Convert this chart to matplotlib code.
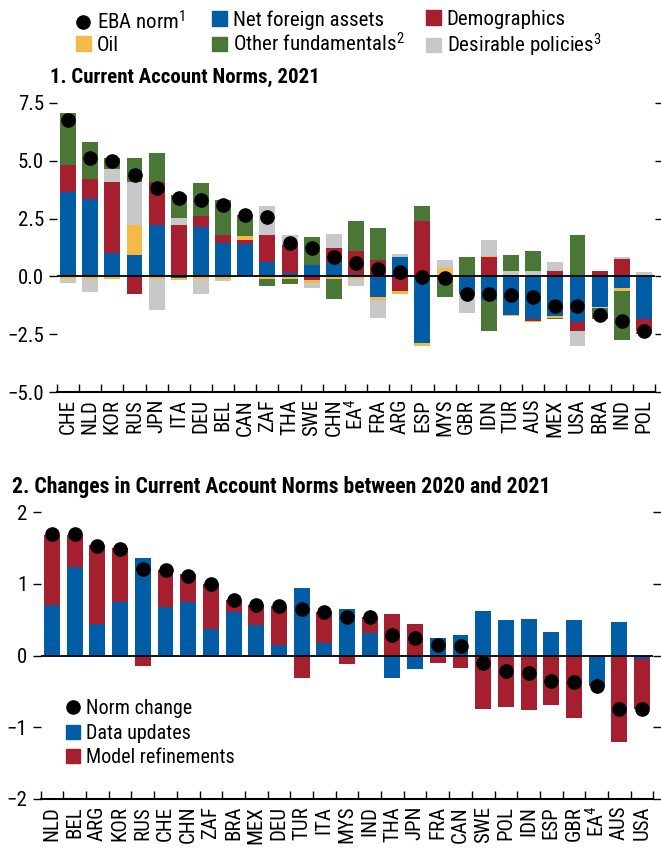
import numpy as np
import matplotlib
matplotlib.use("Agg")
import matplotlib.pyplot as plt
from matplotlib import font_manager as fm
from matplotlib.patches import Patch
from matplotlib.lines import Line2D

# look for a narrow / condensed sans face, else shrink Liberation Sans
def _key(f):
    s = (f.name + ' ' + f.fname).lower()
    for i, k in enumerate(['liberation sans narrow', 'arial narrow', 'roboto condensed',
                           'open sans condensed', 'dejavu sans condensed', 'noto sans']):
        if k in s or k.replace(' ', '') in s:
            return i
    return 9

cands = []
for f in fm.fontManager.ttflist:
    s = (f.name + ' ' + f.fname).lower()
    if ('narrow' in s or 'condensed' in s or str(f.stretch) in ('condensed', 'semi-condensed')) \
            and 'mono' not in s and 'serif' not in s and 'cjk' not in s:
        cands.append(f)
cands.sort(key=_key)

if cands:
    FAMILY = cands[0].name
    plt.rcParams['font.stretch'] = cands[0].stretch if isinstance(cands[0].stretch, str) else 'condensed'
    FS = 15
else:
    FAMILY = 'Liberation Sans'
    FS = 12.8

plt.rcParams['font.family'] = [FAMILY, 'DejaVu Sans']
plt.rcParams['font.size'] = FS
plt.rcParams['mathtext.fontset'] = 'custom'
plt.rcParams['mathtext.rm'] = FAMILY
plt.rcParams['mathtext.it'] = FAMILY
plt.rcParams['mathtext.bf'] = FAMILY + ':bold'

# ---- panel 1: current account norms, 2021 ----
countries1 = ['CHE', 'NLD', 'KOR', 'RUS', 'JPN', 'ITA', 'DEU', 'BEL', 'CAN', 'ZAF',
              'THA', 'SWE', 'CHN', 'EA$^4$', 'FRA', 'ARG', 'ESP', 'MYS', 'GBR', 'IDN',
              'TUR', 'AUS', 'MEX', 'USA', 'BRA', 'IND', 'POL']
nfa = [3.63, 3.34, 1.00, 0.91, 2.24, -0.06, 2.12, 1.43, 1.39, 0.61,
       0.14, 0.48, 0.58, 0.09, -0.91, 0.82, -2.90, 0.05, -0.78, -1.04,
       -1.65, -1.86, -1.73, -1.99, -1.34, -0.52, -1.84]
demographics = [1.18, 0.86, 3.07, -0.74, 1.83, 2.24, 0.48, 0.35, 0.17, 1.17,
                1.20, -0.17, 0.63, 0.99, 0.69, -0.61, 2.38, -0.15, 0.00, 0.82,
                0.06, -0.09, 0.22, -0.35, 0.22, 0.74, -0.50]
oil = [-0.13, -0.13, -0.10, 1.30, -0.10, -0.10, -0.10, -0.10, 0.19, -0.10,
       -0.10, -0.12, -0.10, -0.10, -0.13, -0.13, -0.09, 0.33, -0.09, 0.05,
       -0.08, -0.04, -0.09, -0.04, 0.00, -0.13, -0.05]
policies = [-0.17, -0.56, 0.57, 1.86, -1.34, 0.27, -0.65, -0.09, 0.00, 1.25,
            0.44, -0.22, 0.61, -0.30, -0.74, 0.13, -0.04, 0.35, -0.73, 0.72,
            0.16, 0.22, 0.39, -0.65, -0.04, 0.08, 0.17]
other_fund = [2.26, 1.61, 0.46, 1.03, 1.26, 1.00, 1.43, 1.51, 0.89, -0.30,
              -0.25, 1.21, -0.87, 1.30, 1.39, -0.04, 0.65, -0.72, 0.82, -1.30,
              0.69, 0.87, -0.04, 1.78, -0.48, -2.08, -0.10]
eba_norm = [6.78, 5.10, 4.99, 4.38, 3.84, 3.37, 3.29, 3.08, 2.64, 2.59,
            1.43, 1.21, 0.82, 0.58, 0.32, 0.19, -0.03, -0.09, -0.74, -0.78,
            -0.81, -0.87, -1.26, -1.26, -1.65, -1.91, -2.38]

# ---- panel 2: changes between 2020 and 2021 ----
countries2 = ['NLD', 'BEL', 'ARG', 'KOR', 'RUS', 'CHE', 'CHN', 'ZAF', 'BRA', 'MEX',
              'DEU', 'TUR', 'ITA', 'MYS', 'IND', 'THA', 'JPN', 'FRA', 'CAN', 'SWE',
              'POL', 'IDN', 'ESP', 'GBR', 'EA$^4$', 'AUS', 'USA']
data_updates = [0.71, 1.24, 0.44, 0.74, 1.36, 0.68, 0.74, 0.375, 0.60, 0.43,
                0.15, 0.94, 0.18, 0.65, 0.32, -0.31, -0.19, 0.24, 0.29, 0.625,
                0.50, 0.51, 0.33, 0.50, -0.39, 0.47, -0.055]
model_refinements = [0.97, 0.44, 1.10, 0.76, -0.15, 0.51, 0.39, 0.625, 0.18, 0.28,
                     0.54, -0.32, 0.42, -0.125, 0.21, 0.58, 0.44, -0.11, -0.18, -0.75,
                     -0.72, -0.76, -0.69, -0.875, -0.03, -1.21, -0.695]
norm_change = [1.69, 1.69, 1.53, 1.49, 1.21, 1.19, 1.11, 0.99, 0.77, 0.70,
               0.69, 0.65, 0.60, 0.54, 0.53, 0.28, 0.25, 0.14, 0.13, -0.11,
               -0.22, -0.24, -0.35, -0.37, -0.42, -0.74, -0.75]

BLUE = '#005DA6'
RED = '#A61F2E'
YELLOW = '#F4BA48'
GREEN = '#4A7636'
GRAY = '#C7C8CA'


def stacked(ax, comps, colors, width):
    n = len(comps[0])
    x = np.arange(n)
    pos = np.zeros(n)
    neg = np.zeros(n)
    for vals, c in zip(comps, colors):
        v = np.array(vals, dtype=float)
        base = np.where(v >= 0, pos, neg)
        ax.bar(x, v, bottom=base, width=width, color=c, linewidth=0, zorder=2)
        pos += np.clip(v, 0, None)
        neg += np.clip(v, None, 0)
    return x


def style(ax, labels, yticks, ylabels):
    n = len(labels)
    ax.set_xlim(-0.5, n - 0.5)
    ax.axhline(0, color='black', lw=1.3, zorder=3)
    for s in ['top', 'left', 'right']:
        ax.spines[s].set_visible(False)
    ax.spines['bottom'].set_linewidth(1.5)
    ax.set_xticks(np.arange(n))
    ax.set_xticklabels(labels, rotation=90)
    ax.set_xticks(np.arange(-0.5, n), minor=True)
    ax.tick_params(axis='x', which='major', length=0, pad=5)
    ax.tick_params(axis='x', which='minor', direction='in', length=6, width=1)
    ax.set_yticks(yticks)
    ax.set_yticklabels(ylabels)
    ax.tick_params(axis='y', left=True, right=True, direction='out',
                   length=5.5, width=1, pad=4)


fig = plt.figure(figsize=(6.61, 8.5), dpi=100)

ax1 = fig.add_axes([57 / 661, 1 - 392 / 850, 598 / 661, 289 / 850])
x1 = stacked(ax1, [nfa, demographics, oil, policies, other_fund],
             [BLUE, RED, YELLOW, GRAY, GREEN], 0.72)
ax1.plot(x1, eba_norm, 'o', color='black', ms=9.5, zorder=4)
ax1.set_ylim(-5, 7.5)
yt1 = [-5, -2.5, 0, 2.5, 5, 7.5]
style(ax1, countries1, yt1, [f'{v:.1f}'.replace('-', '\u2212') for v in yt1])

ax2 = fig.add_axes([40.7 / 661, 1 - 799 / 850, 612.7 / 661, 287 / 850])
x2 = stacked(ax2, [data_updates, model_refinements], [BLUE, RED], 0.70)
ax2.plot(x2, norm_change, 'o', color='black', ms=9.5, zorder=4)
ax2.set_ylim(-2, 2)
yt2 = [-2, -1, 0, 1, 2]
style(ax2, countries2, yt2, [str(v).replace('-', '\u2212') for v in yt2])

fig.text(50 / 661, 1 - 77 / 850, '1. Current Account Norms, 2021',
         fontweight='bold', va='center', ha='left', fontsize=15)
fig.text(12 / 661, 1 - 487 / 850,
         '2. Changes in Current Account Norms between 2020 and 2021',
         fontweight='bold', va='center', ha='left', fontsize=15.6)

dot = Line2D([], [], marker='o', color='black', ls='none', ms=9.5)
leg_kw = dict(frameon=False, handlelength=0.7, handleheight=0.7,
              handletextpad=0.3, borderpad=0, borderaxespad=0)

# top legend: three columns placed separately
top_cols = [([dot, Patch(color=YELLOW)], ['EBA norm$^1$', 'Oil'], 76),
            ([Patch(color=BLUE), Patch(color=GREEN)],
             ['Net foreign assets', 'Other fundamentals$^2$'], 212),
            ([Patch(color=RED), Patch(color=GRAY)],
             ['Demographics', 'Desirable policies$^3$'], 426)]
for h, l, xpos in top_cols:
    fig.legend(h, l, loc='upper left', bbox_to_anchor=(xpos / 661, 1 - 10 / 850),
               labelspacing=0.12, fontsize=15, **leg_kw)

ax2.legend([dot, Patch(color=BLUE), Patch(color=RED)],
           ['Norm change', 'Data updates', 'Model refinements'],
           loc='upper left', bbox_to_anchor=(66 / 661, 1 - 699 / 850),
           bbox_transform=fig.transFigure, labelspacing=0.28, fontsize=14.5,
           **leg_kw)

fig.savefig('out.png', dpi=100)
